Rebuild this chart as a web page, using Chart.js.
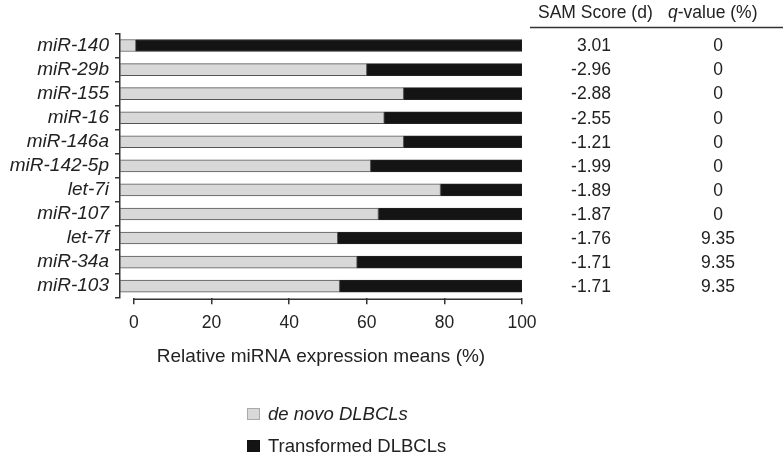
<!DOCTYPE html>
<html><head><meta charset="utf-8">
<script src="https://cdn.jsdelivr.net/npm/chart.js@4.4.1/dist/chart.umd.min.js"></script>
<style>html,body{margin:0;padding:0;background:#fff}#wrap{width:783px;height:457px}</style>
</head><body><div id="wrap"><canvas id="c" width="783" height="457"></canvas></div>
<script>
const categories = ['miR-140','miR-29b','miR-155','miR-16','miR-146a','miR-142-5p','let-7i','miR-107','let-7f','miR-34a','miR-103'];
const deNovo = [0.5, 60, 69.5, 64.5, 69.5, 61, 79, 63, 52.5, 57.5, 53];
const transformed = [99.5, 40, 30.5, 35.5, 30.5, 39, 21, 37, 47.5, 42.5, 47];
const samScore = ['3.01','-2.96','-2.88','-2.55','-1.21','-1.99','-1.89','-1.87','-1.76','-1.71','-1.71'];
const qValue = ['0','0','0','0','0','0','0','0','9.35','9.35','9.35'];
const tableHeaders = ['SAM Score (d)', 'q-value (%)'];
const seriesLabels = ['de novo DLBCLs', 'Transformed DLBCLs'];
const xTitle = 'Relative miRNA expression means (%)';
const axisStart = -3.6;

const FAM = '"Liberation Sans", Arial, Helvetica, sans-serif';
const TXT = '#222';
const colors = ['#d8d8d8', '#141414'];
const borders = ['#555', '#222'];

const extras = {
  id: 'extras',
  afterDraw(chart) {
    const ctx = chart.ctx, xs = chart.scales.x, ys = chart.scales.y;
    ctx.save();
    ctx.strokeStyle = '#333';
    ctx.lineWidth = 1.5;
    const ya = chart.chartArea.bottom + 1;
    ctx.beginPath();
    ctx.moveTo(xs.getPixelForValue(0), ya);
    ctx.lineTo(xs.getPixelForValue(100), ya);
    ctx.stroke();

    ctx.fillStyle = TXT;
    ctx.textBaseline = 'middle';
    ctx.textAlign = 'left';
    ctx.font = '17.5px ' + FAM;
    ctx.fillText(tableHeaders[0], 538, 13);
    ctx.font = 'italic 17.5px ' + FAM;
    const q = tableHeaders[1].charAt(0);
    const qW = ctx.measureText(q).width;
    ctx.fillText(q, 668, 13);
    ctx.font = '17.5px ' + FAM;
    ctx.fillText(tableHeaders[1].slice(1), 668 + qW, 13);
    ctx.lineWidth = 1.5;
    ctx.beginPath();
    ctx.moveTo(530, 27.5);
    ctx.lineTo(783, 27.5);
    ctx.stroke();

    ctx.font = '17.5px ' + FAM;
    samScore.forEach((s, i) => {
      const py = ys.getPixelForValue(i) + 1;
      ctx.textAlign = 'right';
      ctx.fillText(s, 611, py);
      ctx.textAlign = 'center';
      ctx.fillText(qValue[i], 718, py);
    });

    // legend
    const lx = 247, lys = [414, 446];
    chart.data.datasets.forEach((ds, i) => {
      const cy = lys[i];
      ctx.fillStyle = ds.backgroundColor;
      ctx.fillRect(lx, cy - 6, 13, 12);
      ctx.strokeStyle = i === 0 ? '#aaa' : '#111';
      ctx.lineWidth = 1;
      ctx.strokeRect(lx + 0.5, cy - 5.5, 12, 11);
      ctx.fillStyle = TXT;
      ctx.textAlign = 'left';
      ctx.font = (i === 0 ? 'italic ' : '') + '18.5px ' + FAM;
      ctx.fillText(ds.label, 268, cy + 1);
    });
    ctx.restore();
  }
};

new Chart(document.getElementById('c'), {
  type: 'bar',
  data: {
    labels: categories,
    datasets: [
      { label: seriesLabels[0], data: deNovo, backgroundColor: colors[0], borderColor: borders[0], borderWidth: 1, borderSkipped: false, base: axisStart, barThickness: 12 },
      { label: seriesLabels[1], data: transformed, backgroundColor: colors[1], borderColor: borders[1], borderWidth: 1, borderSkipped: false, barThickness: 12 }
    ]
  },
  options: {
    indexAxis: 'y',
    responsive: false,
    animation: false,
    devicePixelRatio: 1,
    layout: { padding: { left: 0, right: 261, top: 33.5, bottom: 89 } },
    plugins: { legend: { display: false }, tooltip: { enabled: false } },
    scales: {
      x: {
        stacked: true,
        min: axisStart,
        max: 100,
        border: { display: false },
        grid: { drawOnChartArea: false, drawTicks: true, tickLength: 6, color: '#333', lineWidth: 1.5 },
        ticks: { stepSize: 20, includeBounds: false, padding: 8, color: TXT, font: { family: FAM, size: 17.5 }, maxRotation: 0 },
        title: { display: true, text: xTitle, color: TXT, font: { family: FAM, size: 19 }, padding: { top: 4, bottom: 0 } }
      },
      y: {
        stacked: true,
        offset: true,
        afterFit(s) { s.width = 120; },
        border: { display: true, color: '#333', width: 1.5 },
        grid: { offset: true, drawOnChartArea: false, drawTicks: true, tickLength: 5, color: '#333', lineWidth: 1.5 },
        ticks: { autoSkip: false, padding: 6, color: TXT, font: { family: FAM, size: 19, style: 'italic' } }
      }
    }
  },
  plugins: [extras]
});
</script>
</body></html>
